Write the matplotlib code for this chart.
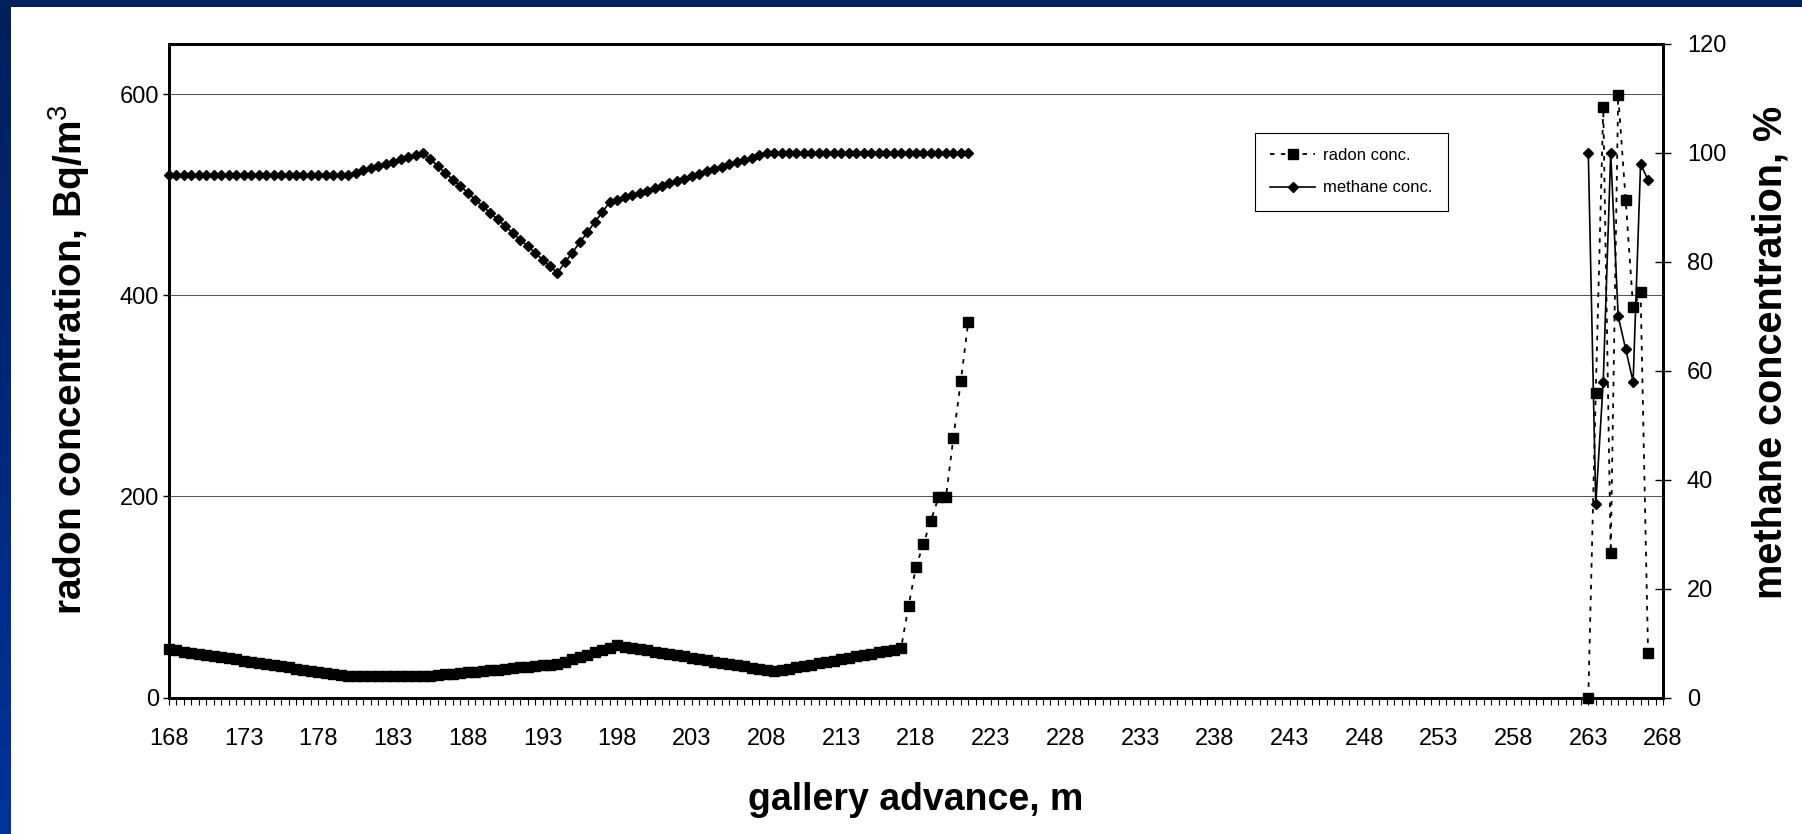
import numpy as np
import matplotlib
matplotlib.use('Agg')
import matplotlib.pyplot as plt
from matplotlib.ticker import FixedLocator, MultipleLocator
from matplotlib.colors import LinearSegmentedColormap
from matplotlib.patches import Rectangle

plt.rcParams['font.family'] = ['Liberation Sans', 'DejaVu Sans']
plt.rcParams['mathtext.fontset'] = 'custom'
plt.rcParams['mathtext.rm'] = 'Liberation Sans'
plt.rcParams['mathtext.it'] = 'Liberation Sans:italic'
plt.rcParams['mathtext.bf'] = 'Liberation Sans:bold'

# gallery advance (m), one reading every 0.5 m
advance_a = np.arange(168, 222, 0.5)      # 168 ... 221.5
advance_b = np.arange(263, 267.5, 0.5)    # 263 ... 267

# radon concentration, Bq/m3 (left axis)
radon_a = [
    48.0, 46.9, 45.8, 44.6, 43.5, 42.4, 41.3, 40.1, 39.0, 37.9, 36.8, 35.6, 34.5,
    33.4, 32.3, 31.1, 30.0, 28.9, 27.8, 26.6, 25.5, 24.4, 23.3, 22.1, 21.0,
    21.0, 21.0, 21.0, 21.0, 21.0, 21.0, 21.0, 21.0, 21.0, 21.0,
    21.7, 22.4, 23.1, 23.8, 24.5, 25.2, 25.9, 26.6, 27.3, 27.9, 28.6, 29.3,
    30.0, 30.7, 31.4, 32.1, 32.8, 33.5,
    35.8, 38.1, 40.4, 42.8, 45.1, 47.4, 49.7, 52.0,
    50.8, 49.5, 48.3, 47.0, 45.8, 44.6, 43.3, 42.1, 40.9, 39.6, 38.4, 37.1,
    35.9, 34.7, 33.4, 32.2, 31.0, 29.7, 28.5, 27.2, 26.0,
    27.4, 28.7, 30.1, 31.4, 32.8, 34.1, 35.5, 36.8, 38.2, 39.5, 40.9, 42.2,
    43.6, 44.9, 46.3, 47.6, 49.0,
    91, 130, 153, 176, 199, 199, 258, 315, 374,
]
radon_b = [0, 303, 587, 144, 599, 495, 388, 403, 44]

# methane concentration, % (right axis)
methane_a = [
    96.0, 96.0, 96.0, 96.0, 96.0, 96.0, 96.0, 96.0, 96.0, 96.0, 96.0, 96.0, 96.0,
    96.0, 96.0, 96.0, 96.0, 96.0, 96.0, 96.0, 96.0, 96.0, 96.0, 96.0, 96.0,
    96.4, 96.8, 97.2, 97.6, 98.0, 98.4, 98.8, 99.2, 99.6, 100.0,
    98.8, 97.6, 96.3, 95.1, 93.9, 92.7, 91.4, 90.2, 89.0, 87.8, 86.6, 85.3,
    84.1, 82.9, 81.7, 80.4, 79.2, 78.0,
    79.9, 81.7, 83.6, 85.4, 87.3, 89.1, 91.0,
    91.4, 91.9, 92.3, 92.7, 93.1, 93.6, 94.0, 94.4, 94.9, 95.3, 95.7, 96.1,
    96.6, 97.0, 97.4, 97.9, 98.3, 98.7, 99.1, 99.6, 100.0,
    100.0, 100.0, 100.0, 100.0, 100.0, 100.0, 100.0, 100.0, 100.0, 100.0,
    100.0, 100.0, 100.0, 100.0, 100.0, 100.0, 100.0, 100.0, 100.0, 100.0,
    100.0, 100.0, 100.0, 100.0, 100.0, 100.0, 100.0,
]
methane_b = [100, 35.5, 58, 100, 70, 64, 58, 98, 95]

x_ticks = np.arange(168, 269, 5)
radon_ticks = [0, 200, 400, 600]
methane_ticks = [0, 20, 40, 60, 80, 100, 120]

W, H = 1802, 834
fig = plt.figure(figsize=(W / 100, H / 100), dpi=100)

# slide frame: navy strip on top, blue gradient on the left
strip = fig.add_axes([0, 0, 11 / W, 1])
strip.imshow(np.linspace(0, 1, 256).reshape(-1, 1), aspect='auto', origin='upper',
             extent=[0, 1, 0, 1],
             cmap=LinearSegmentedColormap.from_list('slide', ['#001f5c', '#003399']))
strip.axis('off')
fig.add_artist(Rectangle((0, 1 - 7 / H), 1, 7 / H, transform=fig.transFigure,
                         color='#00205f', lw=0))

ax = fig.add_axes([169 / W, 1 - 697.6 / H, (1663 - 169) / W, (697.6 - 44) / H])
ax2 = ax.twinx()

dots = (0, (2.5, 3.5))
ax.plot(advance_a, radon_a, color='black', lw=1.3, ls=dots, marker='s', ms=7.5,
        label='radon conc.', clip_on=False)
ax.plot(advance_b, radon_b, color='black', lw=1.3, ls=dots, marker='s', ms=7.5,
        clip_on=False)
ax2.plot(advance_a, methane_a, color='black', lw=1.2, marker='D', ms=5,
         label='methane conc.', clip_on=False)
ax2.plot(advance_b, methane_b, color='black', lw=1.2, marker='D', ms=5,
         clip_on=False)

ax.set_xlim(168, 268)
ax.set_ylim(0, 650)
ax2.set_ylim(0, 120)

ax.xaxis.set_major_locator(FixedLocator(x_ticks))
ax.xaxis.set_minor_locator(MultipleLocator(0.5))
ax.set_yticks(radon_ticks)
ax2.set_yticks(methane_ticks)

ax.tick_params(axis='x', which='both', direction='out', length=5, width=0.8,
               pad=17, labelsize=17)
ax.tick_params(axis='y', direction='out', length=4.5, width=1, pad=2.5, labelsize=17)
ax2.tick_params(axis='y', direction='inout', length=11.5, width=1, pad=11.5,
                labelsize=17)

ax.yaxis.grid(True, color='#555555', lw=0.75)
ax.set_axisbelow(True)
for a in (ax, ax2):
    for s in a.spines.values():
        s.set_linewidth(2)
        s.set_color('black')

fig.text(82 / W, 1 - 360 / H, 'radon concentration, Bq/m$^3$', rotation=90,
         rotation_mode='anchor', ha='center', va='baseline', fontsize=28,
         fontweight='bold')
fig.text(1781 / W, 1 - 352 / H, 'methane concentration, %', rotation=90,
         rotation_mode='anchor', ha='center', va='baseline', fontsize=28.5,
         fontweight='bold')
fig.text(916 / W, 1 - 810 / H, 'gallery advance, m', ha='center', va='baseline',
         fontsize=27, fontweight='bold')

h1, l1 = ax.get_legend_handles_labels()
h2, l2 = ax2.get_legend_handles_labels()
leg = ax2.legend(h1 + h2, l1 + l2, loc='upper left',
                 bbox_to_anchor=(1255 / W, 1 - 133 / H), bbox_transform=fig.transFigure,
                 borderaxespad=0, fontsize=12, fancybox=False, edgecolor='black',
                 framealpha=1, handlelength=2.7, handletextpad=0.5,
                 labelspacing=1.05, borderpad=0.9)
leg.get_frame().set_linewidth(0.8)

fig.savefig('out.png', dpi=100, facecolor='white')
